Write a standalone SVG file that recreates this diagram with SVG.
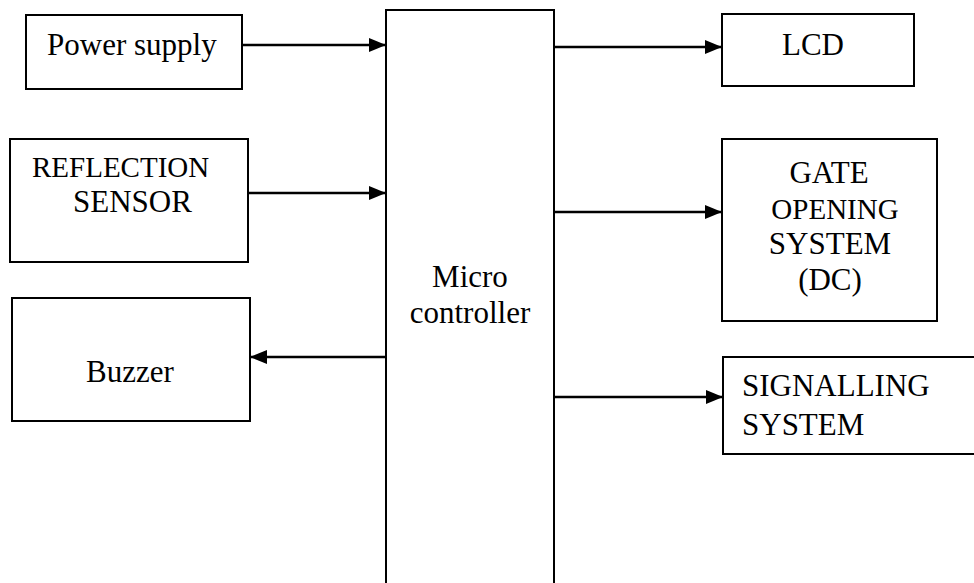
<svg xmlns="http://www.w3.org/2000/svg" width="974" height="583" viewBox="0 0 974 583">
<style>
.box{fill:#fff;stroke:#000;stroke-width:2}
.t{font-family:"Liberation Serif","Times New Roman",serif;font-size:31px;fill:#000}
.s{font-size:29px}
.c{text-anchor:middle}
.ln{stroke:#000;stroke-width:2.5;fill:none}
</style>
<defs>
<marker id="ah" viewBox="0 0 17 14" refX="17" refY="7" markerWidth="17" markerHeight="14" markerUnits="userSpaceOnUse" orient="auto">
<path d="M0,0 L17,7 L0,14 Z" fill="#000"/>
</marker>
</defs>
<rect width="974" height="583" fill="#fff"/>
<g id="micro">
<path class="box" d="M386,600 L386,10 L554,10 L554,600"/>
<text class="t c" x="470" y="287">Micro</text>
<text class="t c" x="470" y="323">controller</text>
</g>
<g id="power">
<rect class="box" x="26" y="15" width="216" height="74"/>
<text class="t" x="47" y="55">Power supply</text>
</g>
<g id="sensor">
<rect class="box" x="10" y="139" width="238" height="123"/>
<text class="t s" x="32" y="177">REFLECTION</text>
<text class="t" x="73" y="212">SENSOR</text>
</g>
<g id="buzzer">
<rect class="box" x="12" y="298" width="238" height="123"/>
<text class="t c" x="130" y="382">Buzzer</text>
</g>
<g id="lcd">
<rect class="box" x="722" y="14" width="192" height="72"/>
<text class="t c" x="813" y="55">LCD</text>
</g>
<g id="gate">
<rect class="box" x="722" y="139" width="215" height="182"/>
<text class="t c" x="829" y="183">GATE</text>
<text class="t c s" x="835" y="219">OPENING</text>
<text class="t c" x="830" y="254">SYSTEM</text>
<text class="t c" x="830" y="290">(DC)</text>
</g>
<g id="signalling">
<rect class="box" x="723" y="357" width="270" height="97"/>
<text class="t" x="742" y="396">SIGNALLING</text>
<text class="t" x="742" y="435">SYSTEM</text>
</g>
<g id="connectors">
<line class="ln" x1="242" y1="45" x2="386" y2="45" marker-end="url(#ah)"/>
<line class="ln" x1="248" y1="193" x2="386" y2="193" marker-end="url(#ah)"/>
<line class="ln" x1="386" y1="357" x2="250" y2="357" marker-end="url(#ah)"/>
<line class="ln" x1="554" y1="47" x2="722" y2="47" marker-end="url(#ah)"/>
<line class="ln" x1="554" y1="212" x2="722" y2="212" marker-end="url(#ah)"/>
<line class="ln" x1="554" y1="397" x2="723" y2="397" marker-end="url(#ah)"/>
</g>
</svg>
